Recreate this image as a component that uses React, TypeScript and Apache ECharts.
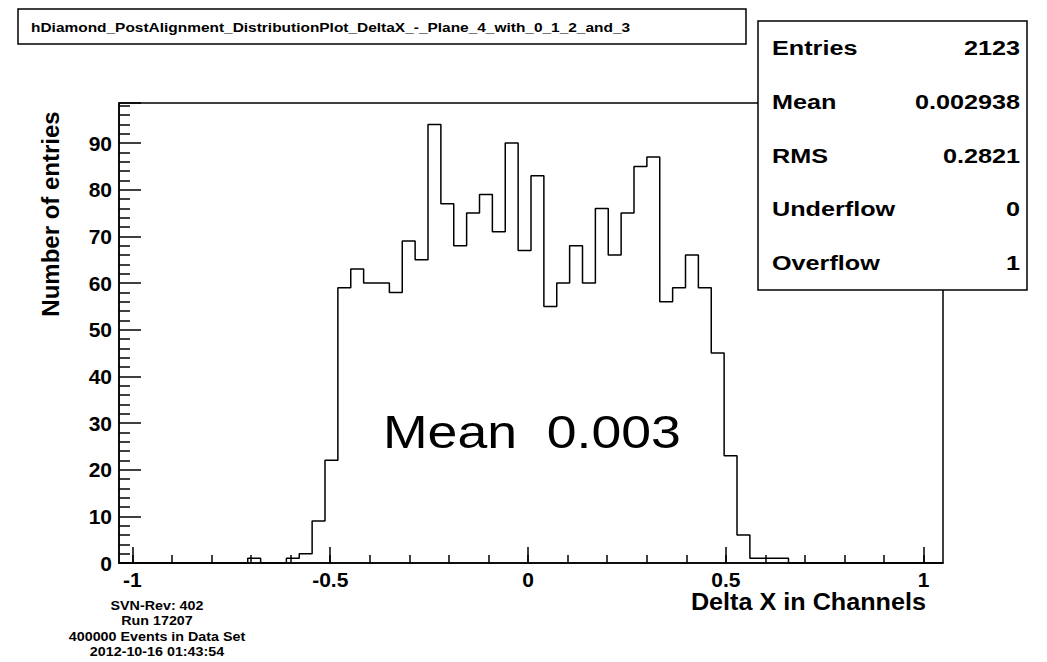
import React, { useEffect, useRef } from "react";
import * as echarts from "echarts";

const TITLE = "hDiamond_PostAlignment_DistributionPlot_DeltaX_-_Plane_4_with_0_1_2_and_3";
const X_NAME = "Delta X in Channels";
const Y_NAME = "Number of entries";
const X_MIN = -1.034;
const X_MAX = 1.049;
const Y_MAX = 98.6;
const COUNTS = [
  0, 0, 0, 0, 0, 0, 0, 0, 0, 0,
  1, 0, 0, 1, 2, 9, 22, 59, 63, 60,
  60, 58, 69, 65, 94, 77, 68, 75, 79, 71,
  90, 67, 83, 55, 60, 68, 60, 76, 66, 75,
  85, 87, 56, 59, 66, 59, 45, 23, 6, 1,
  1, 1, 0, 0, 0, 0, 0, 0, 0, 0,
  0, 0, 0, 0,
];
const X_TICKS = [-1, -0.5, 0, 0.5, 1];
const X_MINOR_TICKS = [-1, -0.9, -0.8, -0.7, -0.6, -0.5, -0.4, -0.3, -0.2, -0.1, 0, 0.1, 0.2, 0.3, 0.4, 0.5, 0.6, 0.7, 0.8, 0.9, 1];
const STAT_LABELS = ["Entries", "Mean", "RMS", "Underflow", "Overflow"];
const STAT_VALUES = ["2123", "0.002938", "0.2821", "0", "1"];
const FOOTER_LINES = ["SVN-Rev: 402", "Run 17207", "400000 Events in Data Set", "2012-10-16 01:43:54"];
const MEAN_TEXT = "Mean  0.003";

const FONT = '"Liberation Sans", Arial, Helvetica, sans-serif';

export default function App() {
  const ref = useRef<HTMLDivElement>(null);
  useEffect(() => {
    if (!ref.current) return;
    const chart = echarts.init(ref.current, undefined, { renderer: "svg" });
    const binW = (X_MAX - X_MIN) / COUNTS.length;
    const pts: number[][] = [];
    COUNTS.forEach((c, k) => {
      pts.push([X_MIN + k * binW, c]);
      pts.push([X_MIN + (k + 1) * binW, c]);
    });

    const graphics: any[] = [];
    graphics.push({
      type: "rect",
      shape: { x: 18, y: 9, width: 728, height: 35 },
      style: { fill: "#fff", stroke: "#000", lineWidth: 1.5 },
      z: 10,
    });
    graphics.push({
      type: "text",
      x: 31,
      y: 27,
      scaleX: 1.19,
      style: { text: TITLE, fontFamily: FONT, fontWeight: "bold", fontSize: 13, fill: "#000", verticalAlign: "middle", align: "left" },
      z: 11,
    });
    graphics.push({
      type: "rect",
      shape: { x: 758, y: 21, width: 269, height: 269 },
      style: { fill: "#fff", stroke: "#000", lineWidth: 1.5 },
      z: 10,
    });
    STAT_LABELS.forEach((lab, i) => {
      const y = 48 + i * 53.75;
      graphics.push({
        type: "text",
        x: 772,
        y,
        scaleX: 1.2,
        style: { text: lab, fontFamily: FONT, fontWeight: "bold", fontSize: 21, fill: "#000", verticalAlign: "middle", align: "left" },
        z: 11,
      });
      graphics.push({
        type: "text",
        x: 1020,
        y,
        scaleX: 1.2,
        style: { text: STAT_VALUES[i], fontFamily: FONT, fontWeight: "bold", fontSize: 21, fill: "#000", verticalAlign: "middle", align: "right" },
        z: 11,
      });
    });
    FOOTER_LINES.forEach((line, i) => {
      graphics.push({
        type: "text",
        x: 157,
        y: [606, 621, 637, 652][i],
        scaleX: 1.1,
        style: { text: line, fontFamily: FONT, fontWeight: "bold", fontSize: 13, fill: "#000", verticalAlign: "middle", align: "center" },
        z: 11,
      });
    });
    graphics.push({
      type: "text",
      x: 383,
      y: 432,
      scaleX: 1.14,
      style: { text: MEAN_TEXT, fontFamily: FONT, fontSize: 47, fill: "#000", verticalAlign: "middle", align: "left" },
      z: 11,
    });
    graphics.push({
      type: "text",
      x: 50,
      y: 214,
      rotation: Math.PI / 2,
      style: { text: Y_NAME, fontFamily: FONT, fontWeight: "bold", fontSize: 24, fill: "#000", verticalAlign: "middle", align: "center" },
      z: 11,
    });
    graphics.push({
      type: "text",
      x: 926,
      y: 602,
      scaleX: 1.05,
      style: { text: X_NAME, fontFamily: FONT, fontWeight: "bold", fontSize: 24, fill: "#000", verticalAlign: "middle", align: "right" },
      z: 11,
    });

    chart.setOption({
      animation: false,
      backgroundColor: "#fff",
      grid: { left: 119, top: 103, right: 104, bottom: 99, outerBoundsMode: "none", containLabel: false, show: true, borderColor: "#000", borderWidth: 1.5, backgroundColor: "transparent" },
      xAxis: [
        {
          type: "value",
          min: X_MIN,
          max: X_MAX,
          position: "bottom",
          axisLine: { show: true, onZero: false, lineStyle: { color: "#000", width: 1.5 } },
          axisTick: { show: true, inside: true, length: 16, customValues: X_TICKS, lineStyle: { color: "#000", width: 1.5 } },
          axisLabel: { show: true, customValues: X_TICKS, margin: 6, fontFamily: FONT, fontWeight: "bold", fontSize: 21, color: "#000", formatter: (v: number) => String(v) },
          splitLine: { show: false },
        },
        {
          type: "value",
          min: X_MIN,
          max: X_MAX,
          position: "bottom",
          axisLine: { show: false, onZero: false },
          axisTick: { show: true, inside: true, length: 8, customValues: X_MINOR_TICKS, lineStyle: { color: "#000", width: 1.5 } },
          axisLabel: { show: false },
          splitLine: { show: false },
        },
      ],
      yAxis: {
        type: "value",
        min: 0,
        max: Y_MAX,
        interval: 10,
        axisLine: { show: true, onZero: false, lineStyle: { color: "#000", width: 1.5 } },
        axisTick: { show: true, inside: true, length: 22, lineStyle: { color: "#000", width: 1.5 } },
        minorTick: { show: true, splitNumber: 5, length: 11, lineStyle: { color: "#000", width: 1.5 } },
        axisLabel: { show: true, showMaxLabel: false, margin: 7, fontFamily: FONT, fontWeight: "bold", fontSize: 21, color: "#000", formatter: (v: number) => (Number.isInteger(v) ? String(v) : "") },
        splitLine: { show: false },
      },
      series: [
        {
          type: "line",
          xAxisIndex: 0,
          data: pts,
          showSymbol: false,
          symbol: "none",
          lineStyle: { color: "#000", width: 1.5 },
          silent: true,
        },
      ],
      graphic: { elements: graphics },
    });
    return () => chart.dispose();
  }, []);
  return <div ref={ref} style={{ position: "absolute", left: 0, top: 0, width: 1047, height: 662 }} />;
}
